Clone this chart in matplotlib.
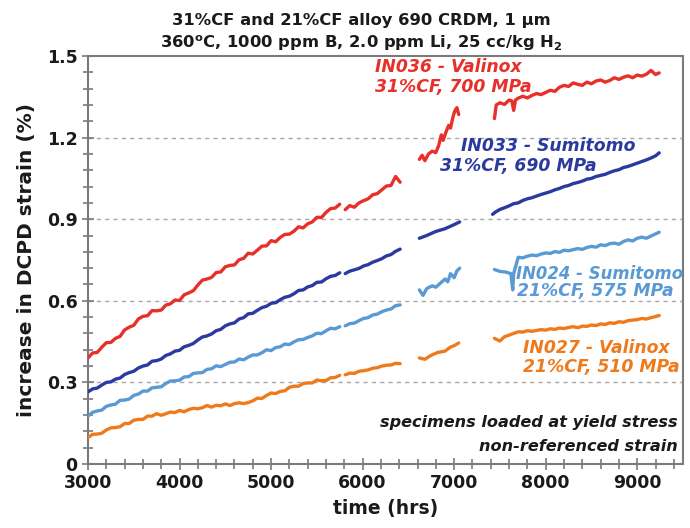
import matplotlib
matplotlib.use("Agg")
import matplotlib.pyplot as plt
from matplotlib.ticker import MultipleLocator, FixedLocator

# ---------------- data ----------------
t_a = list(range(3000, 5751, 50))          # first segment, hours
t_b = list(range(5810, 6411, 50))          # second segment, hours

# IN036 - Valinox (red)
red_a = [0.390, 0.408, 0.410, 0.429, 0.446, 0.447, 0.462, 0.469, 0.493, 0.503, 0.510, 0.533,
         0.543, 0.545, 0.564, 0.563, 0.566, 0.584, 0.589, 0.603, 0.601, 0.622, 0.629, 0.637,
         0.658, 0.676, 0.680, 0.686, 0.704, 0.706, 0.725, 0.730, 0.732, 0.751, 0.756, 0.775,
         0.772, 0.786, 0.801, 0.802, 0.821, 0.817, 0.833, 0.844, 0.845, 0.856, 0.872, 0.868,
         0.883, 0.890, 0.907, 0.906, 0.925, 0.939, 0.941, 0.955]
red_b = [0.935, 0.950, 0.944, 0.960, 0.968, 0.975, 0.990, 0.994, 1.008, 1.022, 1.024, 1.057, 1.036]
red_c_t = [6620, 6650, 6680, 6720, 6760, 6800, 6830, 6860, 6880, 6910, 6940, 6960, 6990, 7010, 7030, 7050]
red_c = [1.120, 1.135, 1.115, 1.140, 1.150, 1.145, 1.170, 1.210, 1.190, 1.220, 1.245, 1.235,
         1.280, 1.300, 1.310, 1.285]
red_d_t = [7440, 7460, 7500, 7550, 7600, 7630, 7650, 7670] + list(range(7700, 9201, 50)) + [9240]
red_d = [1.270, 1.320, 1.328, 1.322, 1.338, 1.335, 1.300, 1.338,
         1.345, 1.352, 1.346, 1.355, 1.362, 1.358, 1.366, 1.374, 1.370, 1.385, 1.392, 1.388,
         1.401, 1.396, 1.392, 1.404, 1.398, 1.408, 1.412, 1.404, 1.410, 1.420, 1.414, 1.422,
         1.427, 1.420, 1.430, 1.426, 1.433, 1.447, 1.432, 1.438]

# IN033 - Sumitomo (dark blue)
blue_a = [0.265, 0.276, 0.279, 0.290, 0.300, 0.302, 0.312, 0.316, 0.329, 0.336, 0.341, 0.353,
          0.360, 0.364, 0.378, 0.380, 0.386, 0.399, 0.405, 0.415, 0.418, 0.431, 0.436, 0.443,
          0.456, 0.467, 0.471, 0.478, 0.490, 0.495, 0.508, 0.515, 0.519, 0.533, 0.538, 0.552,
          0.554, 0.565, 0.575, 0.580, 0.591, 0.593, 0.604, 0.613, 0.617, 0.626, 0.638, 0.640,
          0.651, 0.656, 0.668, 0.669, 0.681, 0.690, 0.693, 0.703]
blue_b = [0.700, 0.709, 0.714, 0.719, 0.728, 0.733, 0.742, 0.748, 0.755, 0.765, 0.770, 0.782, 0.790]
blue_c_t = [6620, 6700, 6800, 6900, 7000, 7060]
blue_c = [0.830, 0.840, 0.855, 0.865, 0.880, 0.890]
blue_d_t = [7420] + list(range(7450, 9201, 50)) + [9240]
blue_d = [0.918, 0.926, 0.936, 0.942, 0.949, 0.957, 0.960, 0.969, 0.975, 0.979,
          0.985, 0.991, 0.996, 1.001, 1.008, 1.013, 1.020, 1.024, 1.031, 1.035,
          1.040, 1.047, 1.050, 1.057, 1.061, 1.065, 1.072, 1.078, 1.082, 1.090,
          1.094, 1.100, 1.106, 1.112, 1.118, 1.125, 1.133, 1.144]

# IN024 - Sumitomo (light blue)
lblue_a = [0.176, 0.190, 0.195, 0.198, 0.212, 0.217, 0.220, 0.234, 0.235, 0.239, 0.252, 0.257,
           0.268, 0.268, 0.280, 0.282, 0.284, 0.296, 0.305, 0.306, 0.308, 0.320, 0.321, 0.333,
           0.335, 0.336, 0.348, 0.350, 0.361, 0.358, 0.366, 0.374, 0.375, 0.386, 0.383, 0.393,
           0.401, 0.401, 0.409, 0.420, 0.417, 0.428, 0.431, 0.441, 0.439, 0.449, 0.457, 0.458,
           0.465, 0.471, 0.481, 0.479, 0.490, 0.499, 0.497, 0.505]
lblue_b = [0.508, 0.516, 0.518, 0.527, 0.535, 0.538, 0.548, 0.551, 0.560, 0.566, 0.570, 0.582, 0.585]
lblue_c_t = [6620, 6660, 6700, 6760, 6800, 6850, 6900, 6930, 6960, 7000, 7030, 7060]
lblue_c = [0.640, 0.620, 0.645, 0.655, 0.650, 0.665, 0.680, 0.670, 0.700, 0.685, 0.710, 0.720]
lblue_d_t = [7440, 7500, 7560, 7620, 7640, 7650, 7700] + list(range(7750, 9201, 50)) + [9240]
lblue_d = [0.715, 0.708, 0.706, 0.700, 0.640, 0.700, 0.760,
           0.758, 0.764, 0.768, 0.766, 0.772, 0.776, 0.774, 0.781, 0.778, 0.786,
           0.784, 0.788, 0.792, 0.789, 0.796, 0.800, 0.797, 0.806, 0.803, 0.810,
           0.812, 0.808, 0.818, 0.824, 0.820, 0.830, 0.834, 0.830, 0.838, 0.846, 0.852]

# IN027 - Valinox (orange)
orange_a = [0.097, 0.109, 0.110, 0.113, 0.125, 0.133, 0.134, 0.137, 0.149, 0.149, 0.161, 0.164,
            0.164, 0.176, 0.176, 0.185, 0.179, 0.185, 0.191, 0.189, 0.197, 0.192, 0.200, 0.205,
            0.203, 0.207, 0.215, 0.209, 0.216, 0.214, 0.221, 0.215, 0.222, 0.225, 0.222, 0.226,
            0.232, 0.242, 0.241, 0.252, 0.261, 0.259, 0.267, 0.269, 0.282, 0.286, 0.286, 0.296,
            0.298, 0.298, 0.309, 0.306, 0.307, 0.317, 0.318, 0.326]
orange_b = [0.328, 0.334, 0.333, 0.341, 0.343, 0.346, 0.352, 0.354, 0.360, 0.363, 0.364, 0.370, 0.369]
orange_c_t = [6620, 6680, 6750, 6820, 6900, 6960, 7000, 7050]
orange_c = [0.390, 0.385, 0.400, 0.410, 0.415, 0.430, 0.435, 0.445]
orange_d_t = [7440, 7500, 7550, 7600, 7650, 7700] + list(range(7750, 9201, 50)) + [9240]
orange_d = [0.462, 0.452, 0.468, 0.474, 0.480, 0.486,
            0.485, 0.490, 0.488, 0.491, 0.494, 0.492, 0.497, 0.495, 0.500, 0.498,
            0.502, 0.505, 0.501, 0.507, 0.506, 0.511, 0.509, 0.515, 0.513, 0.519,
            0.517, 0.523, 0.521, 0.527, 0.529, 0.531, 0.535, 0.533, 0.538, 0.542, 0.546]

x_ticks = [3000, 4000, 5000, 6000, 7000, 8000, 9000]
y_ticks = [0, 0.3, 0.6, 0.9, 1.2, 1.5]
y_tick_labels = ["0", "0.3", "0.6", "0.9", "1.2", "1.5"]

# ---------------- styling ----------------
RED = "#E8302A"
BLUE = "#2B3A9E"
LBLUE = "#5A9AD4"
ORANGE = "#EF7A1C"
FRAME = "#7a7a7a"

plt.rcParams['font.family'] = ['DejaVu Sans']
fig = plt.figure(figsize=(6.9, 5.28), dpi=100)
ax = fig.add_axes([88/690, 64/528, (683-88)/690, (464-56)/528])

lw = 2.4
series = [
    (RED, [(t_a, red_a), (t_b, red_b), (red_c_t, red_c), (red_d_t, red_d)]),
    (BLUE, [(t_a, blue_a), (t_b, blue_b), (blue_c_t, blue_c), (blue_d_t, blue_d)]),
    (LBLUE, [(t_a, lblue_a), (t_b, lblue_b), (lblue_c_t, lblue_c), (lblue_d_t, lblue_d)]),
    (ORANGE, [(t_a, orange_a), (t_b, orange_b), (orange_c_t, orange_c), (orange_d_t, orange_d)]),
]
for col, segs in series:
    for tx, ty in segs:
        ax.plot(tx, ty, color=col, lw=lw, solid_joinstyle='round', solid_capstyle='round', zorder=3)

ax.set_xlim(3000, 9500)
ax.set_ylim(0, 1.5)
ax.xaxis.set_major_locator(FixedLocator(x_ticks))
ax.xaxis.set_minor_locator(MultipleLocator(200))
ax.yaxis.set_major_locator(FixedLocator(y_ticks))
ax.set_yticklabels(y_tick_labels)
ax.yaxis.set_minor_locator(MultipleLocator(0.06))

for y in y_ticks[1:-1]:
    ax.axhline(y, color="#a8a8a8", lw=1.0, ls=(0, (3, 3)), zorder=1)

for s in ax.spines.values():
    s.set_color(FRAME)
    s.set_linewidth(1.5)

ax.tick_params(which='major', direction='inout', length=9, width=1.2, color=FRAME,
               labelsize=12.5, pad=3)
ax.tick_params(which='minor', direction='inout', length=7, width=1.2, color=FRAME)
ax.tick_params(top=False, right=False, which='both')
for lab in ax.get_xticklabels() + ax.get_yticklabels():
    lab.set_fontweight('bold')
    lab.set_color('#1a1a1a')

ax.set_xlabel("time (hrs)", fontsize=13.5, fontweight='bold', labelpad=5, color='#1a1a1a')
ax.set_ylabel("increase in DCPD strain (%)", fontsize=14.5, fontweight='bold', labelpad=8,
              color='#1a1a1a')

fig.text(361/690, 1 - 20/528, "31%CF and 21%CF alloy 690 CRDM, 1 µm", ha='center', va='center',
         fontsize=11.8, fontweight='bold', color='#1a1a1a')
fig.text(361/690, 1 - 43/528, r"360$^{\mathbf{o}}$C, 1000 ppm B, 2.0 ppm Li, 25 cc/kg H$_{\mathbf{2}}$",
         ha='center', va='center', fontsize=11.8, fontweight='bold', color='#1a1a1a')

tk = dict(fontsize=12.4, fontweight='bold', style='italic', va='center', ha='left', clip_on=False)
ax.text(6140, 1.458, "IN036 - Valinox", color=RED, **tk)
ax.text(6140, 1.385, "31%CF, 700 MPa", color=RED, **tk)
ax.text(7080, 1.170, "IN033 - Sumitomo", color=BLUE, **tk)
ax.text(6840, 1.095, "31%CF, 690 MPa", color=BLUE, **tk)
tk_small = dict(tk, fontsize=11.9)
ax.text(7675, 0.700, "IN024 - Sumitomo", color=LBLUE, **tk_small)
ax.text(7690, 0.635, "21%CF, 575 MPa", color=LBLUE, **tk)
ax.text(7750, 0.427, "IN027 - Valinox", color=ORANGE, **tk)
ax.text(7750, 0.357, "21%CF, 510 MPa", color=ORANGE, **tk)

tb = dict(fontsize=11.6, fontweight='bold', style='italic', va='center', ha='right', color='#1a1a1a')
ax.text(9440, 0.151, "specimens loaded at yield stress", **tb)
ax.text(9440, 0.066, "non-referenced strain", **tb)

fig.savefig("out.png", dpi=100)
